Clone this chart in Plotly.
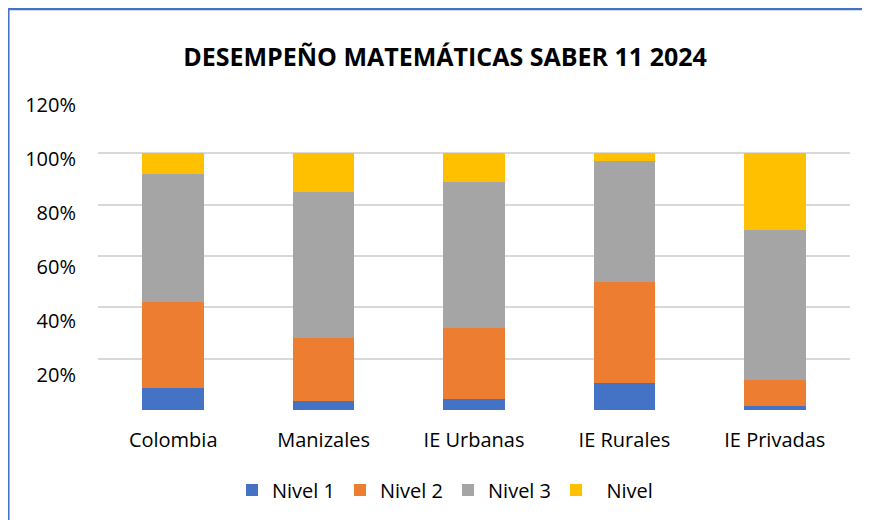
import plotly.graph_objects as go

categories = ["Colombia", "Manizales", "IE Urbanas", "IE Rurales", "IE Privadas"]
nivel1 = [8.7, 3.6, 4.4, 10.7, 1.7]
nivel2 = [33.2, 24.3, 27.4, 39.0, 9.8]
nivel3 = [50.0, 57.0, 57.0, 47.3, 58.5]
nivel4 = [8.1, 15.1, 11.2, 3.0, 30.0]
series_names = ["Nivel 1", "Nivel 2", "Nivel 3", "\u00a0\u00a0Nivel"]
series_values = [nivel1, nivel2, nivel3, nivel4]
colors = ["#4472C4", "#ED7D31", "#A5A5A5", "#FFC000"]
y_ticks = [20, 40, 60, 80, 100, 120]
y_ticktext = [f"{v}%" for v in y_ticks]

FONT = "Open Sans"

fig = go.Figure()
for name, vals, col in zip(series_names, series_values, colors):
    fig.add_trace(go.Bar(x=categories, y=vals, name=name, marker_color=col,
                         marker_line_width=0))
# invisible trace to carry the label axis
fig.add_trace(go.Scatter(x=categories, y=[None] * len(categories), yaxis="y2",
                         showlegend=False, hoverinfo="skip"))

OFF = 8  # page offset of the figure div
W, H = 870 - OFF, 520 - OFF
L, R, T, B = 98 - OFF, W - (850 - OFF), 101.7 - OFF, H - (410 - OFF)
pw = W - L - R
ph = H - T - B


def px_x(x):
    return (x - OFF - L) / pw


def px_y(y):
    return (H - B - (y - OFF)) / ph


fig.update_layout(
    width=W, height=H,
    barmode="stack", bargap=0.59,
    plot_bgcolor="white", paper_bgcolor="white",
    margin=dict(l=L, r=R, t=T, b=B, autoexpand=False),
    title=dict(text="<b>DESEMPEÑO MATEMÁTICAS SABER 11 2024</b>",
               x=(445 - OFF) / W, xanchor="center", xref="container",
               y=1 - (57 - OFF) / H, yanchor="middle", yref="container",
               font=dict(family=FONT, size=25, color="#000000")),
    font=dict(family=FONT, size=20, color="#000000"),
    xaxis=dict(showgrid=False, showline=False, ticks="", tickfont=dict(size=20),
               ticklabelstandoff=16),
    yaxis=dict(range=[0, 120], tickvals=[0, 20, 40, 60, 80, 100, 120],
               showticklabels=False, showgrid=True, gridcolor="#D9D9D9",
               gridwidth=2, zeroline=False, showline=False, ticks=""),
    yaxis2=dict(overlaying="y", side="left", range=[7.04, 121.2],
                tickvals=y_ticks, ticktext=y_ticktext, showgrid=False,
                zeroline=False, showline=False, ticks="",
                ticklabelstandoff=21, tickfont=dict(size=20)),
    legend=dict(orientation="h", x=(445 - OFF) / W, xref="container", xanchor="center",
                y=1 - (490 - OFF) / H, yref="container", yanchor="middle",
                font=dict(size=20), traceorder="normal", itemwidth=30),
    shapes=[
        dict(type="line", xref="paper", yref="paper",
             x0=px_x(8.3), x1=px_x(8.3), y0=px_y(7.5), y1=px_y(540),
             line=dict(color="#4472C4", width=2.5)),
        dict(type="line", xref="paper", yref="paper",
             x0=px_x(7), x1=px_x(870), y0=px_y(8.5), y1=px_y(8.5),
             line=dict(color="#4472C4", width=2.5)),
    ],
)

fig.write_html("out.html")
